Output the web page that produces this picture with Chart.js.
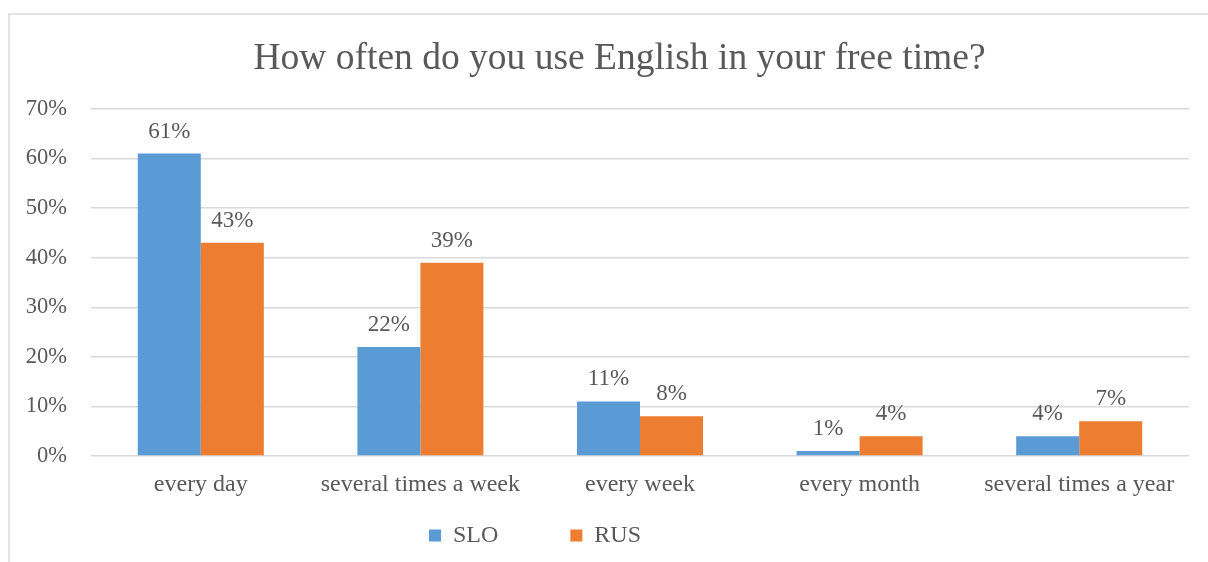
<!DOCTYPE html>
<html>
<head>
<meta charset="utf-8">
<script src="https://cdn.jsdelivr.net/npm/chart.js@4"></script>
<style>
  html, body { margin: 0; padding: 0; background: #fff; }
  #wrap { position: absolute; left: 0; top: 0; width: 1208px; height: 562px; }
</style>
</head>
<body>
<div id="wrap"><canvas id="myChart"></canvas></div>
<script>
// survey answers, share of respondents in %
const categories = ['every day', 'several times a week', 'every week', 'every month', 'several times a year']
const sloValues = [61, 22, 11, 1, 4]
const rusValues = [43, 39, 8, 4, 7]
const yTicks = [0, 10, 20, 30, 40, 50, 60, 70]

const textColor = '#595959'
const serif = '"Liberation Serif", "Times New Roman", serif'

// light frame round the chart (left and top edges show)
const framePlugin = {
  id: 'frame',
  beforeDraw(chart) {
    const c = chart.ctx
    c.save()
    c.fillStyle = '#fff'
    c.fillRect(0, 0, chart.width, chart.height)
    c.strokeStyle = '#d9d9d9'
    c.lineWidth = 1.5
    c.beginPath()
    c.moveTo(9, chart.height)
    c.lineTo(9, 14)
    c.lineTo(chart.width, 14)
    c.stroke()
    c.restore()
  }
}

// value labels above each bar
const valueLabels = {
  id: 'valueLabels',
  afterDatasetsDraw(chart) {
    const c = chart.ctx
    c.save()
    c.font = '23px ' + serif
    c.fillStyle = textColor
    c.textAlign = 'center'
    c.textBaseline = 'alphabetic'
    chart.data.datasets.forEach((ds, i) => {
      chart.getDatasetMeta(i).data.forEach((bar, j) => {
        c.fillText(ds.data[j] + '%', bar.x, bar.y - 16)
      })
    })
    c.restore()
  }
}

// title a bit right of centre, legend low and left, items spread wide
const placeBlocks = {
  id: 'placeBlocks',
  afterLayout(chart) {
    const tb = chart.titleBlock
    tb.left += 25
    tb.right += 25

    const lg = chart.legend
    const pad = lg.options.labels.padding
    lg.left = 429 - pad
    lg.top = 523.5 - pad
    lg.bottom = chart.height
  }
}

const ctx = document.getElementById('myChart')

new Chart(ctx, {
  type: 'bar',
  data: {
    labels: categories,
    datasets: [{
      label: 'SLO',
      data: sloValues,
      backgroundColor: '#5B9BD5',
      borderColor: '#5B9BD5',
      borderWidth: 0
    }, {
      label: 'RUS',
      data: rusValues,
      backgroundColor: '#ED7D31',
      borderColor: '#ED7D31',
      borderWidth: 0
    }]
  },
  options: {
    responsive: true,
    maintainAspectRatio: false,
    animation: false,
    datasets: {
      bar: { categoryPercentage: 0.574, barPercentage: 1 }
    },
    layout: { padding: { left: 0, right: 19, top: 0, bottom: 0 } },
    plugins: {
      title: {
        display: true,
        text: 'How often do you use English in your free time?',
        color: textColor,
        font: { family: serif, size: 37.5, weight: 'normal' },
        padding: { top: 37, bottom: 27 }
      },
      legend: {
        position: 'bottom',
        align: 'start',
        maxHeight: 56,
        labels: {
          boxWidth: 12,
          boxHeight: 12,
          padding: 72,
          color: textColor,
          font: { family: serif, size: 24 }
        }
      },
      tooltip: { enabled: false }
    },
    scales: {
      x: {
        grid: { display: false, drawTicks: false },
        border: { display: false },
        ticks: {
          color: textColor,
          padding: 14,
          maxRotation: 0,
          autoSkip: false,
          font: { family: serif, size: 24 }
        },
        afterFit(scale) { scale.height = 50 }
      },
      y: {
        min: 0,
        max: 70,
        afterBuildTicks(scale) {
          scale.ticks = yTicks.map(v => ({ value: v }))
        },
        grid: { color: '#d9d9d9', lineWidth: 1.5, drawTicks: false },
        border: { display: false },
        ticks: {
          color: textColor,
          padding: 24,
          font: { family: serif, size: 22.5 },
          callback: v => v + '%'
        },
        afterFit(scale) { scale.width = 91 }
      }
    }
  },
  plugins: [framePlugin, valueLabels, placeBlocks]
})
</script>
</body>
</html>
